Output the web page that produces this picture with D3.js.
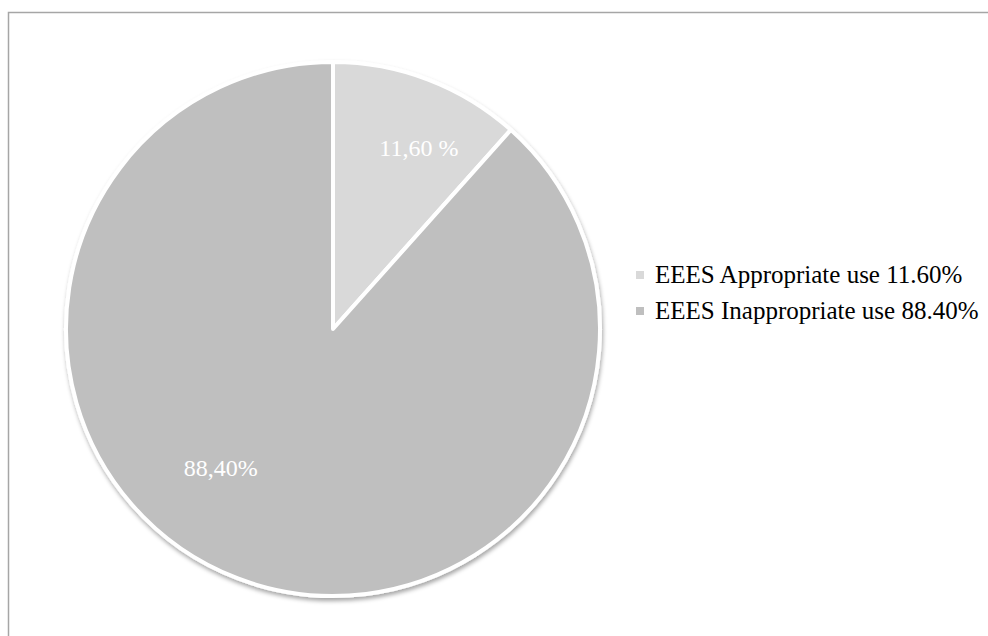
<!DOCTYPE html>
<html>
<head>
<meta charset="utf-8">
<script src="https://cdn.jsdelivr.net/npm/d3@7/dist/d3.min.js"></script>
<style>
  html, body { margin: 0; padding: 0; background: #fff; }
  svg { display: block; }
</style>
</head>
<body>
<svg id="chart" width="988" height="636"></svg>
<script>
// ---- data ----
const categories = ["EEES Appropriate use", "EEES Inappropriate use"];
const values = [11.60, 88.40];
const sliceLabels = ["11,60 %", "88,40%"];
const legendLabels = ["EEES Appropriate use 11.60%", "EEES Inappropriate use 88.40%"];
const colors = ["#d9d9d9", "#bfbfbf"];
// label placement tweaks (angle shift in degrees, radius fraction)
const labelAngleShift = [4.5, 18];
const labelRadiusFrac = [0.75, 0.67];

const W = 988, H = 636;
const svg = d3.select("#chart");

// outer frame (extends beyond the right/bottom edges like the reference)
svg.append("rect")
  .attr("x", 8.5).attr("y", 12.5)
  .attr("width", 1100).attr("height", 800)
  .attr("fill", "none")
  .attr("stroke", "#a6a6a6")
  .attr("stroke-width", 1.5);

const defs = svg.append("defs");
const f = defs.append("filter").attr("id", "shadow")
  .attr("x", "-10%").attr("y", "-10%").attr("width", "120%").attr("height", "120%");
f.append("feDropShadow")
  .attr("dx", 1).attr("dy", 3).attr("stdDeviation", 2.2)
  .attr("flood-color", "#000").attr("flood-opacity", 0.35);

const cx = 333, cy = 329, r = 267;
const pie = d3.pie().sort(null).value(d => d)(values);
const arc = d3.arc().innerRadius(0).outerRadius(r);

const g = svg.append("g").attr("transform", `translate(${cx},${cy})`);

g.append("g").attr("filter", "url(#shadow)")
  .selectAll("path").data(pie).join("path")
  .attr("d", arc)
  .attr("fill", (d, i) => colors[i])
  .attr("stroke", "#fff")
  .attr("stroke-width", 4)
  .attr("stroke-linejoin", "round");

g.selectAll("text.lbl").data(pie).join("text")
  .attr("class", "lbl")
  .attr("transform", (d, i) => {
    const mid = (d.startAngle + d.endAngle) / 2 + labelAngleShift[i] * Math.PI / 180;
    const rr = r * labelRadiusFrac[i];
    const la = d3.arc().innerRadius(rr).outerRadius(rr);
    const c = la.centroid({startAngle: mid, endAngle: mid});
    return `translate(${c[0]},${c[1]})`;
  })
  .attr("text-anchor", "middle")
  .attr("dominant-baseline", "central")
  .attr("font-family", "'Liberation Serif', 'DejaVu Serif', serif")
  .attr("font-size", 24)
  .attr("fill", "#ffffff")
  .text((d, i) => sliceLabels[i]);

// legend
const legend = svg.append("g").attr("transform", "translate(636,271)");
const li = legend.selectAll("g").data(categories).join("g")
  .attr("transform", (d, i) => `translate(0,${i * 36})`);
li.append("rect")
  .attr("width", 8).attr("height", 8)
  .attr("fill", (d, i) => colors[i]);
li.append("text")
  .attr("x", 19).attr("y", 12)
  .attr("font-family", "'Liberation Serif', 'DejaVu Serif', serif")
  .attr("font-size", 25)
  .attr("fill", "#000")
  .text((d, i) => legendLabels[i]);
</script>
</body>
</html>
